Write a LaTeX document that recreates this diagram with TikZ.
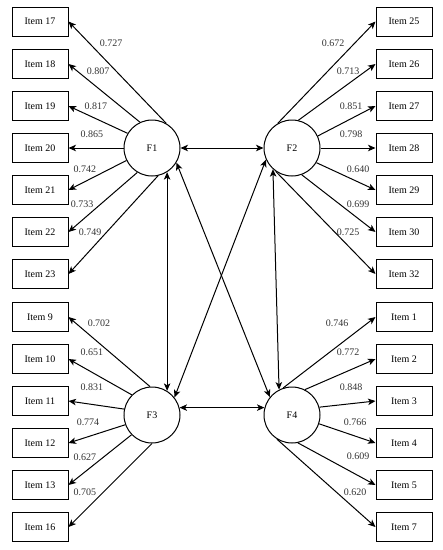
\documentclass[tikz,border=0pt]{standalone}
\usepackage{fontspec}
\setmainfont{Liberation Serif}
\usetikzlibrary{arrows.meta,positioning}

\begin{document}
\begin{tikzpicture}[x=1pt,y=-1pt]
\tikzset{
     item/.style={draw, line width=1pt, minimum width=56pt, minimum height=29pt, inner sep=0pt, font=\fontsize{10}{12}\selectfont},
     factor/.style={draw, circle, line width=1pt, minimum size=56pt, inner sep=0pt, font=\fontsize{10}{12}\selectfont},
     load/.style={text=black!80, inner sep=0pt, font=\fontsize{10}{12}\selectfont},
     link/.style={line width=1pt, -{Stealth[length=7.5pt,width=6.5pt,inset=2pt]}},
     both/.style={line width=1pt, {Stealth[length=7.5pt,width=6.5pt,inset=2pt]}-{Stealth[length=7.5pt,width=6.5pt,inset=2pt]}}}
\useasboundingbox (0,0) rectangle (443,550);

% The factors
\node (F1) [factor] at (152,148) {F1};
\node (F2) [factor] at (292,148) {F2};
\node (F3) [factor] at (152,415) {F3};
\node (F4) [factor] at (292,415) {F4};

% The items, left column
\node (i17) [item] at (40,21.5) {Item 17};
\node (i18) [item] at (40,64) {Item 18};
\node (i19) [item] at (40,106) {Item 19};
\node (i20) [item] at (40,148) {Item 20};
\node (i21) [item] at (40,190) {Item 21};
\node (i22) [item] at (40,232) {Item 22};
\node (i23) [item] at (40,274) {Item 23};
\node (i9)  [item] at (40,317) {Item 9};
\node (i10) [item] at (40,359) {Item 10};
\node (i11) [item] at (40,401) {Item 11};
\node (i12) [item] at (40,443) {Item 12};
\node (i13) [item] at (40,485) {Item 13};
\node (i16) [item] at (40,527) {Item 16};

% The items, right column
\node (i25) [item] at (404,21.5) {Item 25};
\node (i26) [item] at (404,64) {Item 26};
\node (i27) [item] at (404,106) {Item 27};
\node (i28) [item] at (404,148) {Item 28};
\node (i29) [item] at (404,190) {Item 29};
\node (i30) [item] at (404,232) {Item 30};
\node (i32) [item] at (404,274) {Item 32};
\node (i1)  [item] at (404,317) {Item 1};
\node (i2)  [item] at (404,359) {Item 2};
\node (i3)  [item] at (404,401) {Item 3};
\node (i4)  [item] at (404,443) {Item 4};
\node (i5)  [item] at (404,485) {Item 5};
\node (i7)  [item] at (404,527) {Item 7};

% The loadings
\draw [link] (F1.60)  -- (i17.east);
\draw [link] (F1.115) -- (i18.east);
\draw [link] (F1.149) -- (i19.east);
\draw [link] (F1.180) -- (i20.east);
\draw [link] (F1.206) -- (i21.east);
\draw [link] (F1.239) -- (i22.east);
\draw [link] (F1.282) -- (i23.east);

\draw [link] (F2.120) -- (i25.west);
\draw [link] (F2.77)  -- (i26.west);
\draw [link] (F2.25)  -- (i27.west);
\draw [link] (F2.0)   -- (i28.west);
\draw [link] (F2.329) -- (i29.west);
\draw [link] (F2.290) -- (i30.west);
\draw [link] (F2.235) -- (i32.west);

\draw [link] (F3.94)  -- (i9.east);
\draw [link] (F3.135) -- (i10.east);
\draw [link] (F3.168) -- (i11.east);
\draw [link] (F3.200) -- (i12.east);
\draw [link] (F3.224) -- (i13.east);
\draw [link] (F3.270) -- (i16.east);

\draw [link] (F4.108) -- (i1.west);
\draw [link] (F4.63)  -- (i2.west);
\draw [link] (F4.16)  -- (i3.west);
\draw [link] (F4.342) -- (i4.west);
\draw [link] (F4.282) -- (i5.west);
\draw [link] (F4.238) -- (i7.west);

% The correlations
\draw [both] (F1.east) -- (F2.west);
\draw [both] (F1.302) -- (F3.58);
\draw [both] (F1.329) -- (F4.141);
\draw [both] (F2.204) -- (F3.38);
\draw [both] (F2.228) -- (F4.117);
\draw [both] (F3.15)  -- (F4.165);

% The labels
\node [load] at (111,43)  {0.727};
\node [load] at (98,71)   {0.807};
\node [load] at (96,106)  {0.817};
\node [load] at (92,134)  {0.865};
\node [load] at (85,169)  {0.742};
\node [load] at (82,204)  {0.733};
\node [load] at (90,232)  {0.749};

\node [load] at (333,43)  {0.672};
\node [load] at (348,71)  {0.713};
\node [load] at (351,106) {0.851};
\node [load] at (351,134) {0.798};
\node [load] at (358,169) {0.640};
\node [load] at (358,204) {0.699};
\node [load] at (348,232) {0.725};

\node [load] at (99,323)  {0.702};
\node [load] at (92,352)  {0.651};
\node [load] at (92,387)  {0.831};
\node [load] at (88,422)  {0.774};
\node [load] at (85,457)  {0.627};
\node [load] at (85,492)  {0.705};

\node [load] at (337,323) {0.746};
\node [load] at (348,352) {0.772};
\node [load] at (351,387) {0.848};
\node [load] at (355,422) {0.766};
\node [load] at (358,456) {0.609};
\node [load] at (355,492) {0.620};
\end{tikzpicture}
\end{document}
